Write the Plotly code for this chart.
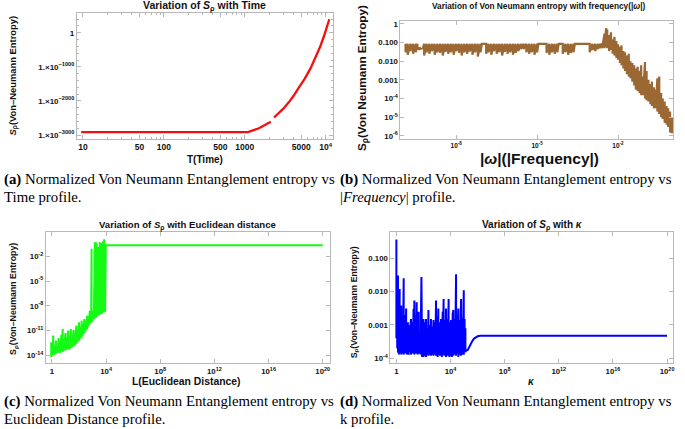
import plotly.graph_objects as go

W, H = 685, 429

# ---------------- data ----------------
# (a) S_rho vs time (values given as log10 S because they span 10^-3000 .. 10^400)
a_T = [9.5, 100, 1000, 1100, 1500, 1800, 2100, None, 2300, 2600, 3000, 3500, 4000,
       4700, 5500, 6500, 7580, 8500, 9500, 10500, 11100]
a_log10S = [-2913, -2913, -2913, -2913, -2800, -2710, -2612, None, -2486, -2375, -2227,
            -2040, -1856, -1592, -1350, -1045, -718, -426, -109, 208, 398]
a_ytick_vals = [0, -1000, -2000, -3000]
a_ytick_text = ["1", "1.×10<sup>−1000</sup>", "1.×10<sup>−2000</sup>", "1.×10<sup>−3000</sup>"]
a_xtick_vals = [10, 50, 100, 500, 1000, 5000, 10000]
a_xtick_text = ["10", "50", "100", "500", "1000", "5000", "10<sup>4</sup>"]

# (b) entropy vs |omega| : log10|omega|, upper and lower swing of the oscillation
b_log10w = [-9.88, -9.8, -9.7, -9.6, -9.5, -9.44, -9.35, -9.25,
            -9.19, -9.1, -9.0, -8.9, -8.8, -8.7, -8.6, -8.5, -8.4, -8.3, -8.2, -8.1, -8.0,
            -7.9, -7.8, -7.7, -7.6, -7.5, -7.4, -7.3, -7.2, -7.1,
            -7.05, -6.92,
            -6.89, -6.8, -6.7, -6.6, -6.5, -6.4, -6.3, -6.2, -6.1, -6.0, -5.9, -5.8, -5.7,
            -5.6, -5.5, -5.4, -5.3, -5.2, -5.1, -5.0,
            -4.95, -4.7,
            -4.65, -4.55, -4.45, -4.35, -4.25,
            -4.2, -4.08,
            -4.05, -3.95, -3.85, -3.75, -3.65,
            -3.6, -3.08,
            -3.05, -2.95, -2.85, -2.75, -2.65,
            -2.59, -2.5, -2.44, -2.4, -2.33, -2.26, -2.2, -2.13, -2.06, -2.0, -1.93, -1.87,
            -1.8, -1.74, -1.67, -1.6, -1.54, -1.47, -1.4, -1.34, -1.27, -1.2, -1.14, -1.07,
            -1.0, -0.94, -0.87, -0.8, -0.74, -0.67, -0.6, -0.54, -0.47, -0.4, -0.34, -0.27,
            -0.2, -0.14, -0.07, 0.0]
b_S_hi = [0.085, 0.085, 0.085, 0.085, 0.085, 0.085, 0.05, 0.05,
          0.085, 0.085, 0.085, 0.085, 0.085, 0.085, 0.085, 0.085, 0.085, 0.085, 0.085, 0.085, 0.085,
          0.085, 0.085, 0.085, 0.085, 0.085, 0.085, 0.085, 0.085, 0.085,
          0.085, 0.085,
          0.085, 0.085, 0.085, 0.085, 0.085, 0.085, 0.085, 0.085, 0.085, 0.085, 0.085, 0.085, 0.085,
          0.085, 0.085, 0.085, 0.085, 0.085, 0.085, 0.085,
          0.085, 0.085,
          0.085, 0.085, 0.085, 0.085, 0.085,
          0.085, 0.085,
          0.085, 0.085, 0.085, 0.085, 0.085,
          0.085, 0.085,
          0.085, 0.085, 0.085, 0.085, 0.085,
          0.09, 0.3, 0.6, 0.5, 0.25, 0.35, 0.15, 0.2, 0.12, 0.08, 0.06, 0.07,
          0.035, 0.03, 0.02, 0.025, 0.01, 0.008, 0.006, 0.004, 0.005, 0.003, 0.006, 0.0015,
          0.009, 0.003, 0.001, 0.0006, 0.0008, 0.0004, 0.0003, 0.0012, 0.0015, 0.0002, 0.0001, 7e-5,
          4e-5, 3e-5, 2e-5, 1e-5]
b_S_lo = [0.03, 0.022, 0.035, 0.025, 0.03, 0.045, 0.045, 0.045,
          0.02, 0.03, 0.025, 0.035, 0.022, 0.03, 0.028, 0.02, 0.032, 0.025, 0.03, 0.022, 0.035,
          0.028, 0.02, 0.03, 0.025, 0.033, 0.022, 0.03, 0.018, 0.03,
          0.085, 0.085,
          0.025, 0.03, 0.022, 0.035, 0.025, 0.03, 0.02, 0.032, 0.025, 0.03, 0.022, 0.028, 0.035,
          0.045, 0.045, 0.03, 0.025, 0.03, 0.022, 0.03,
          0.085, 0.085,
          0.028, 0.022, 0.03, 0.025, 0.03,
          0.085, 0.085,
          0.025, 0.03, 0.022, 0.028, 0.03,
          0.085, 0.085,
          0.03, 0.04, 0.035, 0.045, 0.05,
          0.05, 0.05, 0.06, 0.05, 0.035, 0.04, 0.025, 0.02, 0.015, 0.012, 0.008, 0.006,
          0.004, 0.003, 0.002, 0.0015, 0.0012, 0.0008, 0.0005, 0.0003, 0.00025, 0.0002, 0.00015, 0.00015,
          0.0001, 8e-5, 7e-5, 5e-5, 4e-5, 3e-5, 3e-5, 2e-5, 1.5e-5, 1e-5, 8e-6, 5e-6,
          4e-6, 3e-6, 1.5e-6, 1.4e-6]
b_ytick_vals = [1, 0.1, 0.01, 0.001, 1e-4, 1e-5, 1e-6]
b_ytick_text = ["1", "0.100", "0.010", "0.001", "10<sup>-4</sup>", "10<sup>-5</sup>", "10<sup>-6</sup>"]
b_xtick_vals = [1e-8, 1e-5, 1e-2]
b_xtick_text = ["10<sup>-8</sup>", "10<sup>-5</sup>", "10<sup>-2</sup>"]

# (c) entropy vs Euclidean distance : log10 L, log10 S (upper / lower swing)
c_log10L = [-0.05, 0.05, 0.1, 0.2, 0.3, 0.4, 0.5, 0.6, 0.7, 0.8, 0.9, 1.0, 1.1, 1.2, 1.3, 1.4,
            1.5, 1.6, 1.7, 1.8, 1.9, 2.0, 2.1, 2.2, 2.3, 2.4, 2.5, 2.6, 2.7, 2.8, 2.9, 2.93,
            3.0, 3.1, 3.17, 3.25, 3.3, 3.4, 3.45, 3.5, 3.54, 3.6, 3.62, 3.67, 3.7, 3.75, 3.78,
            3.8, 3.86, 3.9, 3.93, 3.98, 20.0]
c_log10S_hi = [-12.4, -13.0, -11.6, -12.8, -12.2, -13.0, -11.9, -12.5, -11.5, -10.8, -12.0, -11.3,
               -11.9, -11.0, -11.6, -10.8, -11.5, -10.9, -11.3, -10.4, -11.0, -10.0, -10.6, -9.8,
               -10.2, -9.6, -9.8, -9.2, -9.3, -8.6, -8.9, -1.1,
               -8.7, -8.5, -0.3, -8.4, -0.35, -8.3, -0.9, -8.2, -0.3, -8.1, -0.6, -0.4, -8.0, -0.5, -0.2,
               -8.0, 0.05, -7.9, -0.5, -0.68, -0.68]
c_log10S_lo = [-14.2, -14.0, -13.8, -13.9, -13.7, -13.8, -13.6, -13.7, -13.5, -13.6, -13.4, -13.4,
               -13.3, -13.2, -13.3, -13.1, -13.0, -12.9, -12.8, -12.6, -12.4, -12.2, -12.0, -11.8,
               -11.5, -11.3, -11.0, -10.8, -10.5, -10.2, -10.0, -10.0,
               -9.8, -9.6, -9.5, -9.4, -9.3, -9.2, -9.2, -9.1, -9.0, -9.0, -8.95, -8.9, -8.85, -8.8, -8.8,
               -8.75, -8.7, -8.7, -8.65, -0.68, -0.68]
c_ytick_vals = [1e-2, 1e-5, 1e-8, 1e-11, 1e-14]
c_ytick_text = ["10<sup>-2</sup>", "10<sup>-5</sup>", "10<sup>-8</sup>", "10<sup>-11</sup>", "10<sup>-14</sup>"]
c_xtick_vals = [1, 1e4, 1e8, 1e12, 1e16, 1e20]
c_xtick_text = ["1", "10<sup>4</sup>", "10<sup>8</sup>", "10<sup>12</sup>", "10<sup>16</sup>", "10<sup>20</sup>"]

# (d) entropy vs kappa : log10 kappa, upper / lower swing of S
d_log10k = [0.0, 0.06, 0.12, 0.18, 0.24, 0.3, 0.36, 0.42, 0.48, 0.54, 0.6, 0.66, 0.72, 0.78, 0.85,
            0.91, 0.97, 1.03, 1.08, 1.14, 1.2, 1.27, 1.33, 1.39, 1.45, 1.5, 1.56, 1.6, 1.65, 1.7,
            1.78, 1.85, 1.9, 1.95, 2.0, 2.06, 2.12, 2.19, 2.25, 2.31, 2.37, 2.43, 2.5, 2.56, 2.62,
            2.68, 2.74, 2.8, 2.87, 2.93, 2.99, 3.05, 3.1, 3.16, 3.22, 3.3, 3.36, 3.42, 3.49, 3.55,
            3.61, 3.67, 3.73, 3.8, 3.86, 3.92, 3.98, 4.04, 4.1, 4.16, 4.21, 4.27, 4.34, 4.41, 4.47,
            4.53, 4.58, 4.64, 4.7, 4.78, 4.84, 4.9, 4.98, 5.04, 5.1, 5.15,
            5.27, 5.4, 5.52, 5.64, 5.76, 5.9, 6.01, 6.2, 6.38, 20.0]
d_S_hi = [0.36, 0.012, 0.03, 0.005, 0.012, 0.0015, 0.0038, 0.001, 0.0008, 0.025, 0.002, 0.0008,
          0.0031, 0.0007, 0.0012, 0.00098, 0.0006, 0.0009, 0.0015, 0.0007, 0.0012, 0.003, 0.0054,
          0.001, 0.002, 0.0048, 0.0008, 0.0018, 0.0025, 0.001, 0.0005, 0.027, 0.0008, 0.0012,
          0.0015, 0.0006, 0.0012, 0.0015, 0.0008, 0.0006, 0.0028, 0.0007, 0.001, 0.0015, 0.0009,
          0.0006, 0.0014, 0.0008, 0.0012, 0.0054, 0.0009, 0.0018, 0.0031, 0.0008, 0.0012, 0.0015,
          0.0007, 0.0025, 0.006, 0.001, 0.0014, 0.0031, 0.0008, 0.0015, 0.006, 0.0009, 0.0012,
          0.0014, 0.0007, 0.0022, 0.0028, 0.0009, 0.0015, 0.033, 0.0012, 0.0008, 0.0031, 0.0009,
          0.0014, 0.006, 0.001, 0.0016, 0.011, 0.0015, 0.0008, 0.0006,
          1.8e-4, 2.3e-4, 2.9e-4, 3.5e-4, 4.0e-4, 4.4e-4, 4.6e-4, 4.75e-4, 4.8e-4, 4.8e-4]
d_S_lo = [0.0004, 0.0002, 0.00015, 0.00013, 0.00018, 0.00014, 0.00013, 0.00016, 0.00014, 0.00013,
          0.00015, 0.00014, 0.00016, 0.00013, 0.00015, 0.00013, 0.00016, 0.00014, 0.00013, 0.00015,
          0.00014, 0.00016, 0.00013, 0.00015, 0.00014, 0.00016, 0.00013, 0.00015, 0.00014, 0.00016,
          0.00013, 0.00015, 0.00011, 0.00012, 0.00011, 0.00013, 0.00012, 0.00011, 0.00013, 0.00014,
          0.00012, 0.00013, 0.00015, 0.00012, 0.00013, 0.00015, 0.00012, 0.00014, 0.00013, 0.00012,
          0.00014, 0.00011, 0.00013, 0.00014, 0.00012, 0.00013, 0.00011, 0.00013, 0.00014, 0.00012,
          0.00013, 0.00011, 0.00012, 0.00013, 0.00012, 0.00011, 0.00013, 0.00012, 0.00011, 0.00013,
          0.00012, 0.00014, 0.00013, 0.00012, 0.00014, 0.00013, 0.00011, 0.00013, 0.00014, 0.00012,
          0.00013, 0.00014, 0.00013, 0.00015, 0.00016, 0.00017,
          1.8e-4, 2.3e-4, 2.9e-4, 3.5e-4, 4.0e-4, 4.4e-4, 4.6e-4, 4.75e-4, 4.8e-4, 4.8e-4]
d_ytick_vals = [0.1, 0.01, 0.001, 1e-4]
d_ytick_text = ["0.100", "0.010", "0.001", "10<sup>-4</sup>"]
d_xtick_vals = [1, 1e4, 1e8, 1e12, 1e16, 1e20]
d_xtick_text = ["1", "10<sup>4</sup>", "10<sup>8</sup>", "10<sup>12</sup>", "10<sup>16</sup>", "10<sup>20</sup>"]


def swing(xs, his, los):
    """Trace the oscillation as successive strokes between upper and lower values."""
    X, Y = [], []
    for x, h, l in zip(xs, his, los):
        X += [x, x]
        Y += [h, l]
    return X, Y


# ---------------- figure ----------------
fig = go.Figure()

fig.add_trace(go.Scatter(x=a_T, y=a_log10S, mode="lines", connectgaps=False,
                         line=dict(color="rgb(245,15,15)", width=2.3),
                         xaxis="x", yaxis="y", showlegend=False))

bx, by = swing([10 ** e for e in b_log10w], b_S_hi, b_S_lo)
fig.add_trace(go.Scatter(x=bx, y=by, mode="lines",
                         line=dict(color="rgb(155,104,52)", width=2.2),
                         xaxis="x2", yaxis="y2", showlegend=False))

cx, cy = swing([10 ** e for e in c_log10L], [10 ** e for e in c_log10S_hi],
               [10 ** e for e in c_log10S_lo])
fig.add_trace(go.Scatter(x=cx, y=cy, mode="lines",
                         line=dict(color="rgb(20,250,20)", width=2.0),
                         xaxis="x3", yaxis="y3", showlegend=False))

dx, dy = swing([10 ** e for e in d_log10k], d_S_hi, d_S_lo)
fig.add_trace(go.Scatter(x=dx, y=dy, mode="lines",
                         line=dict(color="rgb(0,0,255)", width=2.0),
                         xaxis="x4", yaxis="y4", showlegend=False))

FRAME = "#b8b8b8"


def ax(l, r, t, b, horizontal, anchor, size=7.5, **kw):
    dom = [l / W, r / W] if horizontal else [1 - b / H, 1 - t / H]
    d = dict(domain=dom, anchor=anchor, showline=True, linecolor=FRAME, linewidth=1,
             mirror="ticks", ticks="inside", ticklen=4, tickcolor=FRAME, tickwidth=1,
             showgrid=False, zeroline=False, tickmode="array",
             tickfont=dict(family="Liberation Sans", size=size, color="#111", weight="bold"))
    d.update(kw)
    return d


# panel frames (pixel boxes)
A = (77, 333, 12, 139)
B = (401, 674, 20, 139)
C = (46, 330, 233, 365)
D = (391, 674, 233, 365)

minor_a_x = [v * m for m in (10, 100, 1000) for v in range(2, 10) if v * m not in (50, 500, 5000)]
fig.update_layout(
    xaxis=ax(A[0], A[1], A[2], A[3], True, "y", size=8.5, type="log", range=[0.925, 4.085],
             tickvals=a_xtick_vals, ticktext=a_xtick_text,
             minor=dict(ticks="inside", ticklen=2, tickcolor=FRAME, tickvals=minor_a_x)),
    yaxis=ax(A[0], A[1], A[2], A[3], False, "x", size=8, range=[-3117, 583],
             tickvals=a_ytick_vals, ticktext=a_ytick_text,
             minor=dict(ticks="inside", ticklen=2, tickcolor=FRAME, dtick=200, tick0=0)),
    xaxis2=ax(B[0], B[1], B[2], B[3], True, "y2", size=6.5, type="log", range=[-10.07, 0.04],
              tickvals=b_xtick_vals, ticktext=b_xtick_text),
    yaxis2=ax(B[0], B[1], B[2], B[3], False, "x2", size=7.8, type="log", range=[-6.17, 0.16],
              tickvals=b_ytick_vals, ticktext=b_ytick_text),
    xaxis3=ax(C[0], C[1], C[2], C[3], True, "y3", size=7.8, type="log", range=[-0.44, 20.5],
              tickvals=c_xtick_vals, ticktext=c_xtick_text),
    yaxis3=ax(C[0], C[1], C[2], C[3], False, "x3", size=7.8, type="log", range=[-14.97, 0.88],
              tickvals=c_ytick_vals, ticktext=c_ytick_text),
    xaxis4=ax(D[0], D[1], D[2], D[3], True, "y4", size=7.8, type="log", range=[-0.44, 20.44],
              tickvals=d_xtick_vals, ticktext=d_xtick_text),
    yaxis4=ax(D[0], D[1], D[2], D[3], False, "x4", size=7.8, type="log", range=[-4.15, -0.23],
              tickvals=d_ytick_vals, ticktext=d_ytick_text),
    width=W, height=H, margin=dict(l=0, r=0, t=0, b=0),
    paper_bgcolor="white", plot_bgcolor="white", showlegend=False,
)

SANS = "Liberation Sans"
SERIF = "Liberation Serif"


def note(text, x, y, size, family=SANS, angle=0, xanchor="center", yanchor="middle", color="#111"):
    fig.add_annotation(text=text, x=x / W, y=1 - y / H, xref="paper", yref="paper",
                       showarrow=False, textangle=angle, xanchor=xanchor, yanchor=yanchor,
                       font=dict(family=family, size=size, color=color))


# titles
note("<b>Variation of <i>S</i><sub>ρ</sub> with Time</b>", 205, 5, 10.5)
note("<b>Variation of Von Neumann entropy with frequency(|<i>ω</i>|)</b>", 540, 5, 8.3)
note("<b>Variation of <i>S</i><sub>ρ</sub> with Euclidean distance</b>", 188, 226, 9.6)
note("<b>Variation of <i>S</i><sub>ρ</sub> with <i>κ</i></b>", 533, 226, 10)

# axis labels
note("<b><i>S</i><sub>ρ</sub>(Von–Neumann Entropy)</b>", 13, 75, 9.4, angle=-90)
note("<b>T(Time)</b>", 205, 160, 10)
note("<b>S<sub>ρ</sub>(Von Neumann Entropy)</b>", 363, 77, 11.7, angle=-90)
note("<b>|<i>ω</i>|(|Frequency|)</b>", 540, 159, 15.5)
note("<b>S<sub>ρ</sub>(Von–Neumann Entropy)</b>", 14, 300, 8.8, angle=-90)
note("<b>L(Euclidean Distance)</b>", 187, 383, 10.4)
note("<b>S<sub>ρ</sub>(Von–Neumann Entropy)</b>", 355, 303, 8.8, angle=-90)
note("<b><i>κ</i></b>", 532, 383, 10)

# captions
CAP = 14.8
note("<b>(a)</b> Normalized Von Neumann Entanglement entropy vs", 2, 180, CAP, SERIF, xanchor="left", color="black")
note("Time profile.", 2, 197, CAP, SERIF, xanchor="left", color="black")
note("<b>(b)</b> Normalized Von Neumann Entanglement entropy vs", 338, 180, CAP, SERIF, xanchor="left", color="black")
note("|<i>Frequency</i>| profile.", 338, 197, CAP, SERIF, xanchor="left", color="black")
note("<b>(c)</b> Normalized Von Neumann Entanglement entropy vs", 2, 403, CAP, SERIF, xanchor="left", color="black")
note("Euclidean Distance profile.", 2, 421, CAP, SERIF, xanchor="left", color="black")
note("<b>(d)</b> Normalized Von Neumann Entanglement entropy vs", 338, 403, CAP, SERIF, xanchor="left", color="black")
note("k profile.", 338, 421, CAP, SERIF, xanchor="left", color="black")

fig.write_html("out.html", config={"displayModeBar": False},
               post_script="document.body.style.margin='0';document.body.style.overflow='hidden';")
